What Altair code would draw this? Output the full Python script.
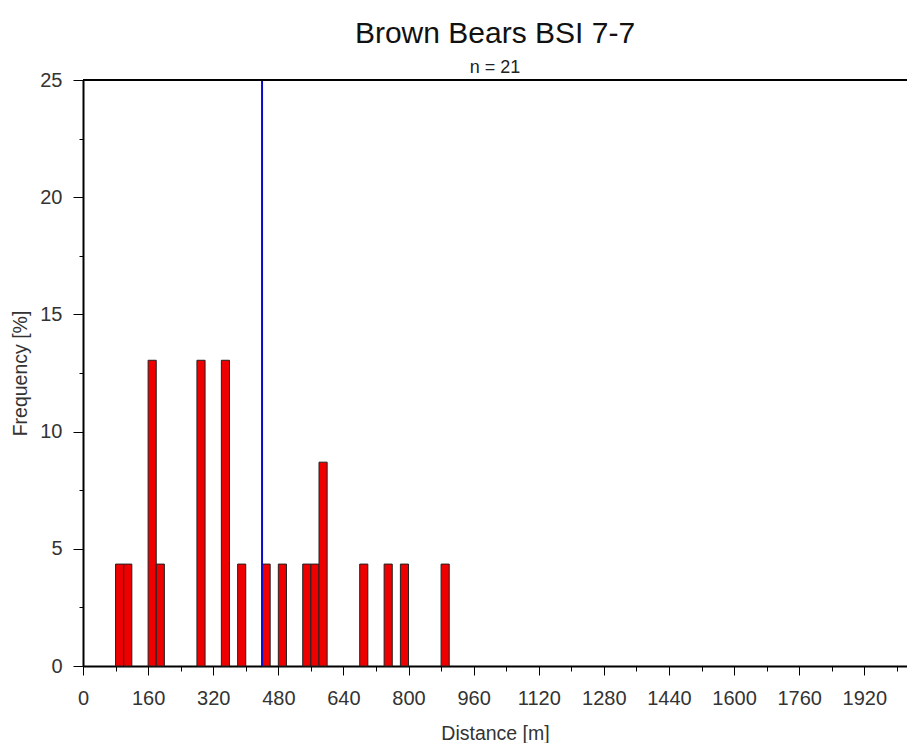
import altair as alt
import pandas as pd

# Distance bins (lower edge, m) and the share of observations falling in each (%)
bin_start = [80, 100, 160, 180, 280, 340, 380, 440, 480, 540, 560, 580, 680, 740, 780, 880]
frequency = [4.348, 4.348, 13.043, 4.348, 13.043, 13.043, 4.348, 4.348, 4.348,
             4.348, 4.348, 8.696, 4.348, 4.348, 4.348, 4.348]
bin_width = 20
mean_distance = [440]

major_x = list(range(0, 2001, 160))
minor_x = list(range(0, 2001, 80))
major_y = [0, 5, 10, 15, 20, 25]
minor_y = [0, 2.5, 5, 7.5, 10, 12.5, 15, 17.5, 20, 22.5, 25]

FONT = "Liberation Sans"
bars_df = pd.DataFrame({"start": bin_start, "freq": frequency})
mean_df = pd.DataFrame({"d": mean_distance})
top_df = pd.DataFrame({"f": [25]})

x_scale = alt.Scale(domain=[0, 2025], nice=False, zero=False)
y_scale = alt.Scale(domain=[0, 25], nice=False)

bars = (
    alt.Chart(bars_df)
    .transform_calculate(end=f"datum.start + {bin_width}")
    .mark_bar(color="#ee0000", stroke="#222222", strokeWidth=1)
    .encode(
        x=alt.X(
            "start:Q",
            scale=x_scale,
            axis=alt.Axis(
                orient="bottom", values=major_x, title="Distance [m]", format="d",
                tickSize=9, labelPadding=13, labelFlush=False, labelOverlap=False,
                grid=False, titlePadding=16,
            ),
        ),
        x2="end:Q",
        y=alt.Y(
            "freq:Q",
            scale=y_scale,
            axis=alt.Axis(
                orient="left", values=major_y, title="Frequency [%]",
                tickSize=10, labelPadding=11, labelFlush=False, labelOverlap=False,
                grid=False, titlePadding=9,
            ),
        ),
        y2=alt.datum(0),
    )
)

# Mean distance marker; also carries the minor ticks on the distance axis
mean_rule = (
    alt.Chart(mean_df)
    .mark_rule(color="#0c0cc8", strokeWidth=2)
    .encode(
        x=alt.X(
            "d:Q",
            scale=x_scale,
            axis=alt.Axis(
                orient="bottom", values=minor_x, labels=False, tickSize=5,
                domain=False, grid=False, title="",
            ),
        )
    )
)

# Upper frame line; also carries the minor ticks on the frequency axis
top_rule = (
    alt.Chart(top_df)
    .mark_rule(color="black", strokeWidth=2)
    .encode(
        y=alt.Y(
            "f:Q",
            scale=y_scale,
            axis=alt.Axis(
                orient="left", values=minor_y, labels=False, tickSize=4,
                domain=False, grid=False, title="",
            ),
        )
    )
)

chart = (
    alt.layer(bars, mean_rule, top_rule)
    .resolve_axis(x="independent", y="independent")
    .properties(
        width=824,
        height=586,
        autosize=alt.AutoSizeParams(type="none"),
        padding={"left": 83, "top": 80, "right": 0, "bottom": 77},
        title=alt.TitleParams(
            "Brown Bears BSI 7-7",
            subtitle="n = 21",
            anchor="middle",
            font=FONT,
            fontSize=30,
            fontWeight="normal",
            color="#111111",
            subtitleFont=FONT,
            subtitleFontSize=18,
            subtitleColor="#222222",
            subtitlePadding=10,
            offset=-7,
        ),
    )
    .configure_view(stroke=None)
    .configure_axis(
        domainColor="black",
        domainWidth=2,
        tickColor="black",
        tickWidth=1,
        labelFont=FONT,
        labelFontSize=20,
        labelColor="#333333",
        titleFont=FONT,
        titleFontSize=19.5,
        titleFontWeight="normal",
        titleColor="#333333",
    )
)

chart.save("out.html", embed_options={"renderer": "svg", "actions": False})
